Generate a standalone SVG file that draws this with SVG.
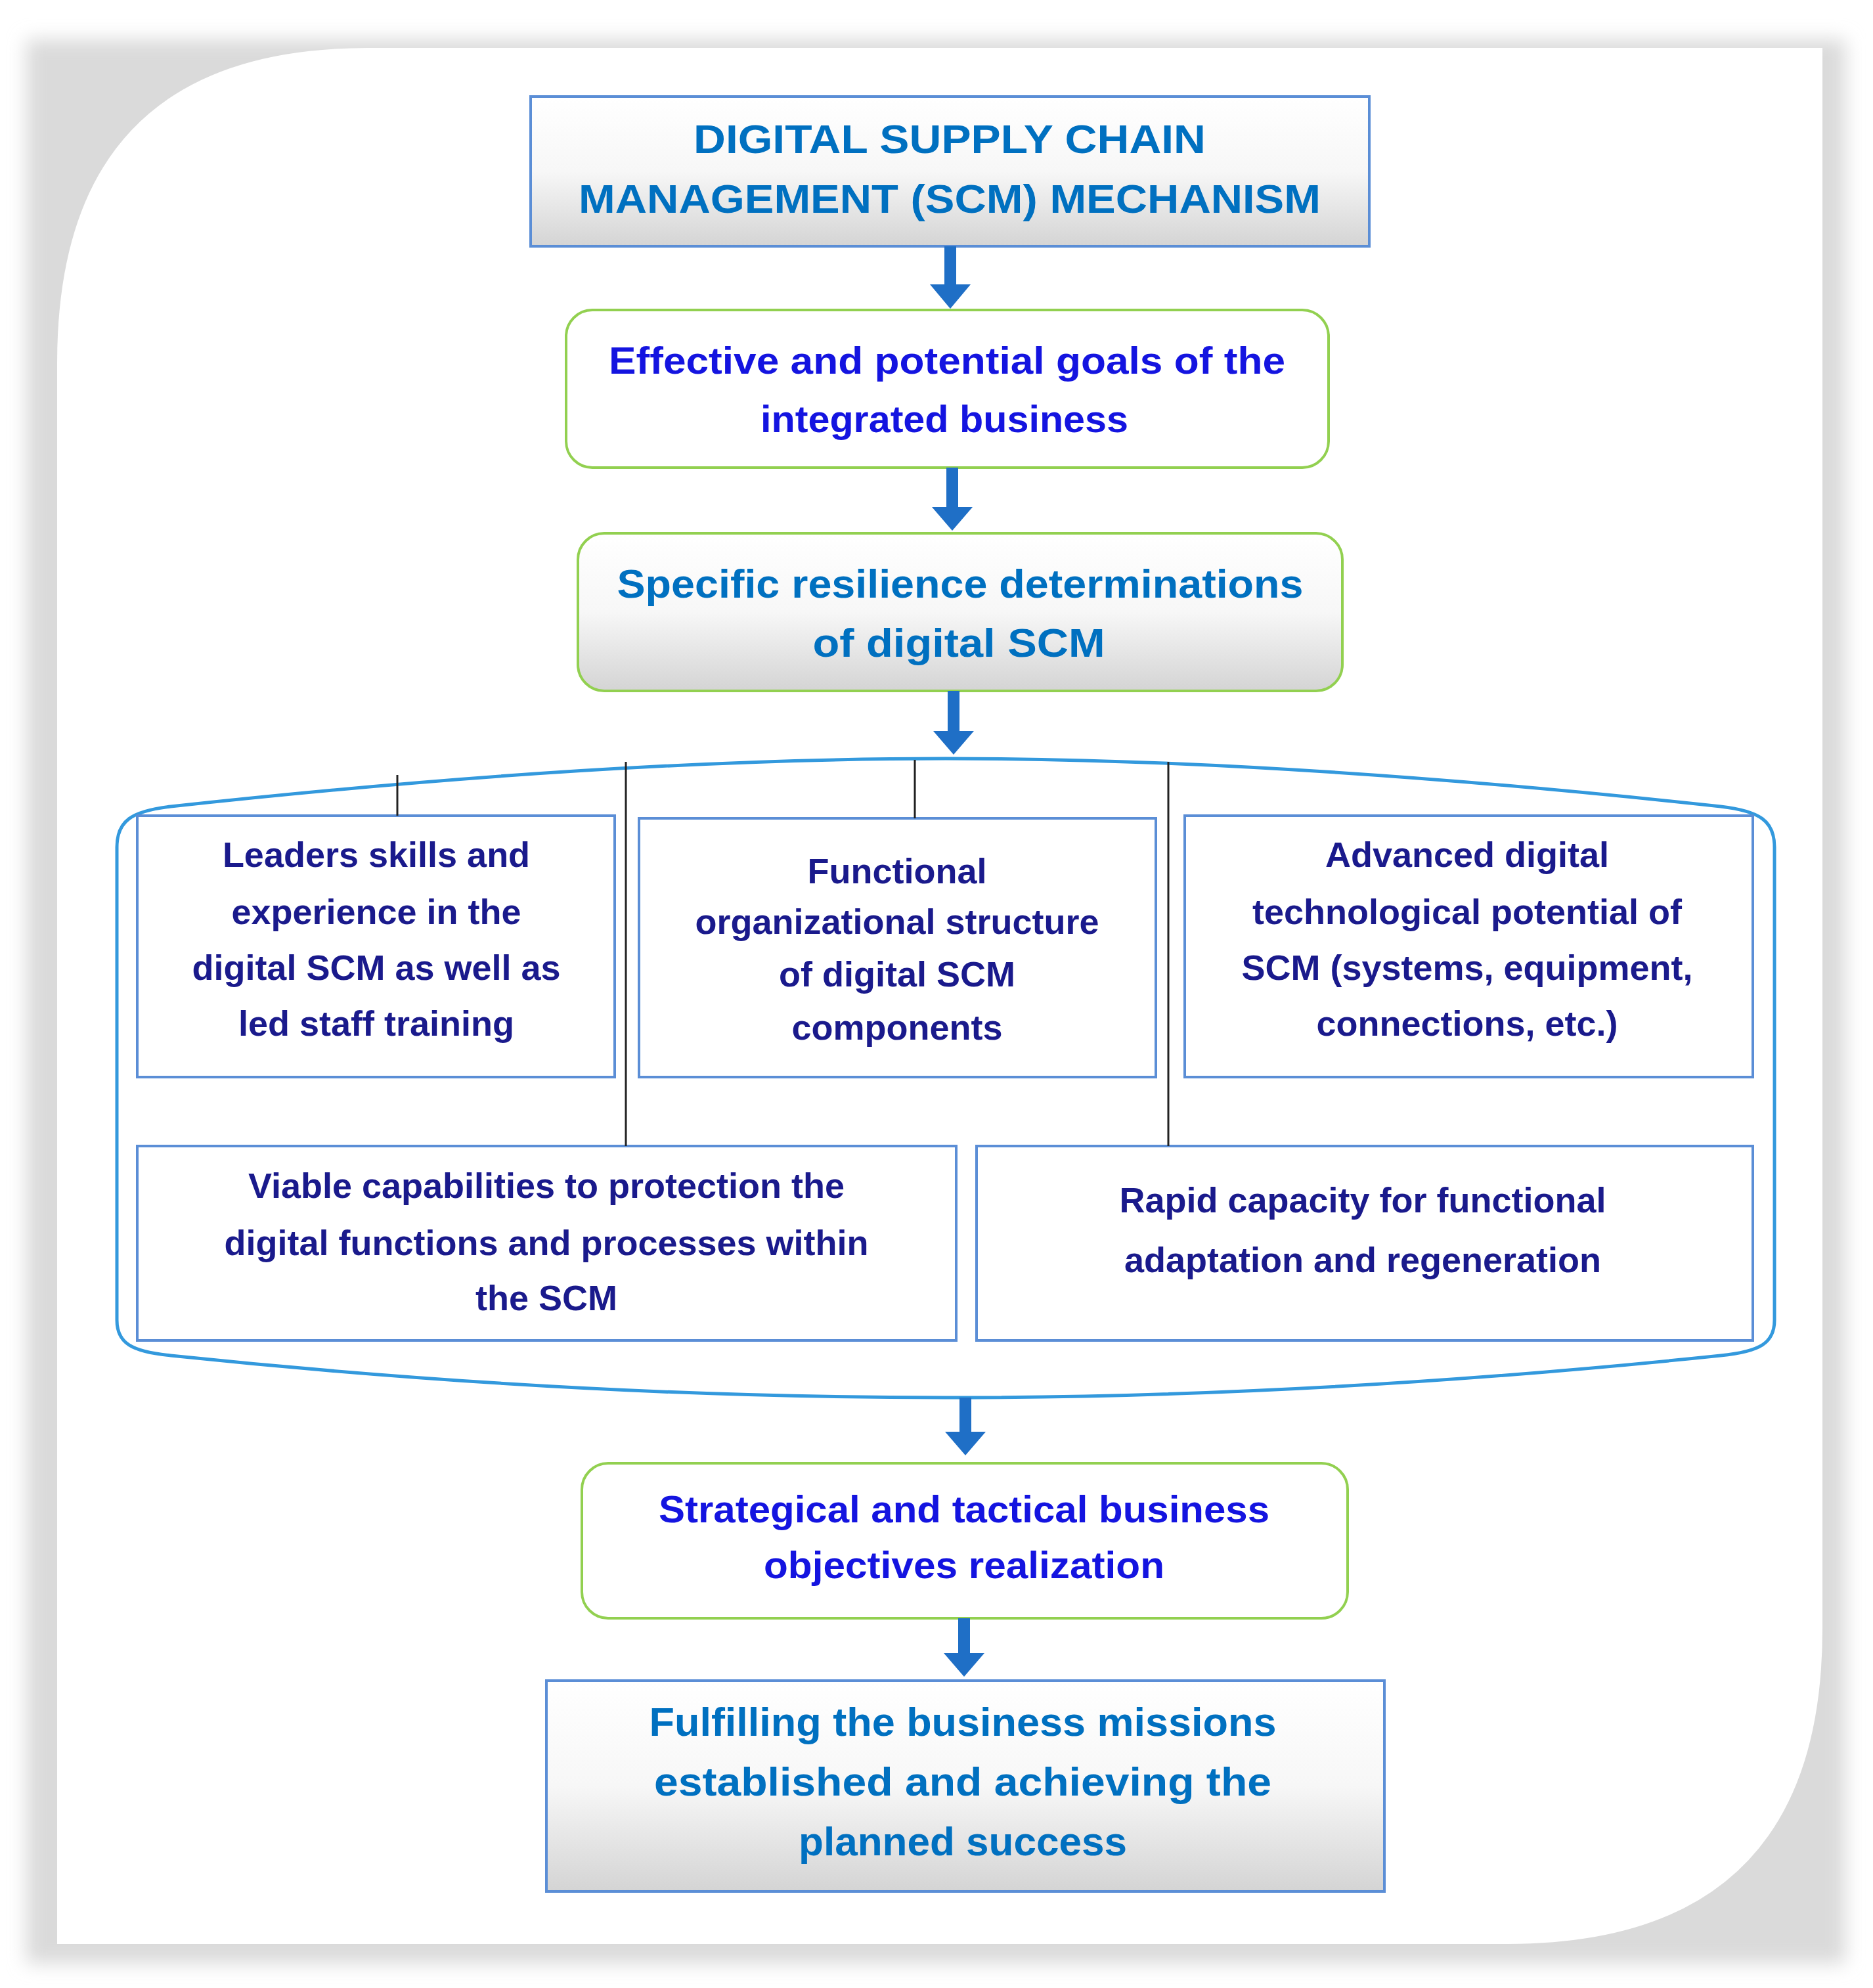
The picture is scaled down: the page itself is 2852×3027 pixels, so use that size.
<svg xmlns="http://www.w3.org/2000/svg" width="2852" height="3027" viewBox="0 0 2852 3027">
<defs>
<linearGradient id="gg" x1="0" y1="0" x2="0" y2="1"><stop offset="0" stop-color="#ffffff"/><stop offset="0.5" stop-color="#f7f7f7"/><stop offset="1" stop-color="#d4d4d4"/></linearGradient>
<filter id="sh" x="-5%" y="-5%" width="110%" height="110%"><feGaussianBlur stdDeviation="14"/></filter>
<style>
.t{font-family:"Liberation Sans",Arial,sans-serif;font-weight:bold;text-anchor:middle}
.h{fill:#0070C0;font-size:62px}
.g{fill:#1414E0;font-size:58px}
.n{fill:#1A1A8C;font-size:54px}
.bb{stroke:#5B8ED6;stroke-width:4;fill:#fff}
.gb{stroke:#92D050;stroke-width:4}
.ar{fill:#1F6FC6}
.ln{stroke:#222;stroke-width:3;fill:none}
</style>
</defs>
<rect width="2852" height="3027" fill="#fff"/>
<path d="M40,60 H2810 V2990 H40 Z" fill="#dadada" filter="url(#sh)"/>
<path d="M560,73 H2775 V2480 Q2775,2960 2295,2960 H87 V553 Q87,73 560,73 Z" fill="#fff"/>
<g id="n1"><rect x="808" y="147" width="1277" height="228" fill="url(#gg)" stroke="#5B8ED6" stroke-width="4"/>
<text class="t h" x="1446" y="233" textLength="780" lengthAdjust="spacingAndGlyphs">DIGITAL SUPPLY CHAIN</text>
<text class="t h" x="1446" y="324" textLength="1130" lengthAdjust="spacingAndGlyphs">MANAGEMENT (SCM) MECHANISM</text></g>
<g id="n2"><rect x="862" y="472" width="1161" height="240" rx="40" fill="#fff" class="gb"/>
<text class="t g" x="1442" y="569" textLength="1030" lengthAdjust="spacingAndGlyphs">Effective and potential goals of the</text>
<text class="t g" x="1438" y="658" textLength="560" lengthAdjust="spacingAndGlyphs">integrated business</text></g>
<g id="n3"><rect x="880" y="812" width="1164" height="240" rx="40" fill="url(#gg)" class="gb"/>
<text class="t h" x="1462" y="910" textLength="1045" lengthAdjust="spacingAndGlyphs">Specific resilience determinations</text>
<text class="t h" x="1460" y="1000" textLength="445" lengthAdjust="spacingAndGlyphs">of digital SCM</text></g>
<g id="group"><path d="M178,1290 C178,1250 200,1235 260,1228 C700,1180 1100,1155 1440,1155 C1780,1155 2180,1180 2620,1228 C2680,1235 2702,1250 2702,1290 V2010 C2702,2045 2680,2058 2620,2064 C2180,2110 1780,2128 1440,2128 C1100,2128 700,2110 260,2064 C200,2058 178,2045 178,2010 Z" fill="none" stroke="#3399DD" stroke-width="5"/></g>
<g id="nA"><rect x="209" y="1242" width="727" height="398" class="bb"/>
<text class="t n" x="573" y="1320">Leaders skills and</text>
<text class="t n" x="573" y="1407">experience in the</text>
<text class="t n" x="573" y="1492">digital SCM as well as</text>
<text class="t n" x="573" y="1577">led staff training</text></g>
<g id="nB"><rect x="973" y="1246" width="787" height="394" class="bb"/>
<text class="t n" x="1366" y="1345">Functional</text>
<text class="t n" x="1366" y="1422">organizational structure</text>
<text class="t n" x="1366" y="1502">of digital SCM</text>
<text class="t n" x="1366" y="1583">components</text></g>
<g id="nC"><rect x="1804" y="1242" width="865" height="398" class="bb"/>
<text class="t n" x="2234" y="1320">Advanced digital</text>
<text class="t n" x="2234" y="1407">technological potential of</text>
<text class="t n" x="2234" y="1492">SCM (systems, equipment,</text>
<text class="t n" x="2234" y="1577">connections, etc.)</text></g>
<g id="nD"><rect x="209" y="1745" width="1247" height="296" class="bb"/>
<text class="t n" x="832" y="1824">Viable capabilities to protection the</text>
<text class="t n" x="832" y="1911">digital functions and processes within</text>
<text class="t n" x="832" y="1995">the SCM</text></g>
<g id="nE"><rect x="1487" y="1745" width="1182" height="296" class="bb"/>
<text class="t n" x="2075" y="1846">Rapid capacity for functional</text>
<text class="t n" x="2075" y="1937">adaptation and regeneration</text></g>
<g id="n4"><rect x="886" y="2228" width="1166" height="236" rx="40" fill="#fff" class="gb"/>
<text class="t g" x="1468" y="2318" textLength="930" lengthAdjust="spacingAndGlyphs">Strategical and tactical business</text>
<text class="t g" x="1468" y="2403" textLength="610" lengthAdjust="spacingAndGlyphs">objectives realization</text></g>
<g id="n5"><rect x="832" y="2559" width="1276" height="321" fill="url(#gg)" stroke="#5B8ED6" stroke-width="4"/>
<text class="t h" x="1466" y="2643" textLength="955" lengthAdjust="spacingAndGlyphs">Fulfilling the business missions</text>
<text class="t h" x="1466" y="2734" textLength="940" lengthAdjust="spacingAndGlyphs">established and achieving the</text>
<text class="t h" x="1466" y="2825" textLength="500" lengthAdjust="spacingAndGlyphs">planned success</text></g>
<g id="connectors">
<path class="ar" d="M1438,375 h18 v58 h22 l-31,37 l-31,-37 h22 z"/>
<path class="ar" d="M1441,712 h18 v60 h22 l-31,36 l-31,-36 h22 z"/>
<path class="ar" d="M1443,1052 h18 v61 h22 l-31,36 l-31,-36 h22 z"/>
<path class="ar" d="M1461,2128 h18 v52 h22 l-31,36 l-31,-36 h22 z"/>
<path class="ar" d="M1459,2464 h18 v53 h22 l-31,36 l-31,-36 h22 z"/>
<line class="ln" x1="605" y1="1180" x2="605" y2="1242"/>
<line class="ln" x1="953" y1="1160" x2="953" y2="1745"/>
<line class="ln" x1="1393" y1="1157" x2="1393" y2="1246"/>
<line class="ln" x1="1779" y1="1160" x2="1779" y2="1745"/>
</g>
</svg>
